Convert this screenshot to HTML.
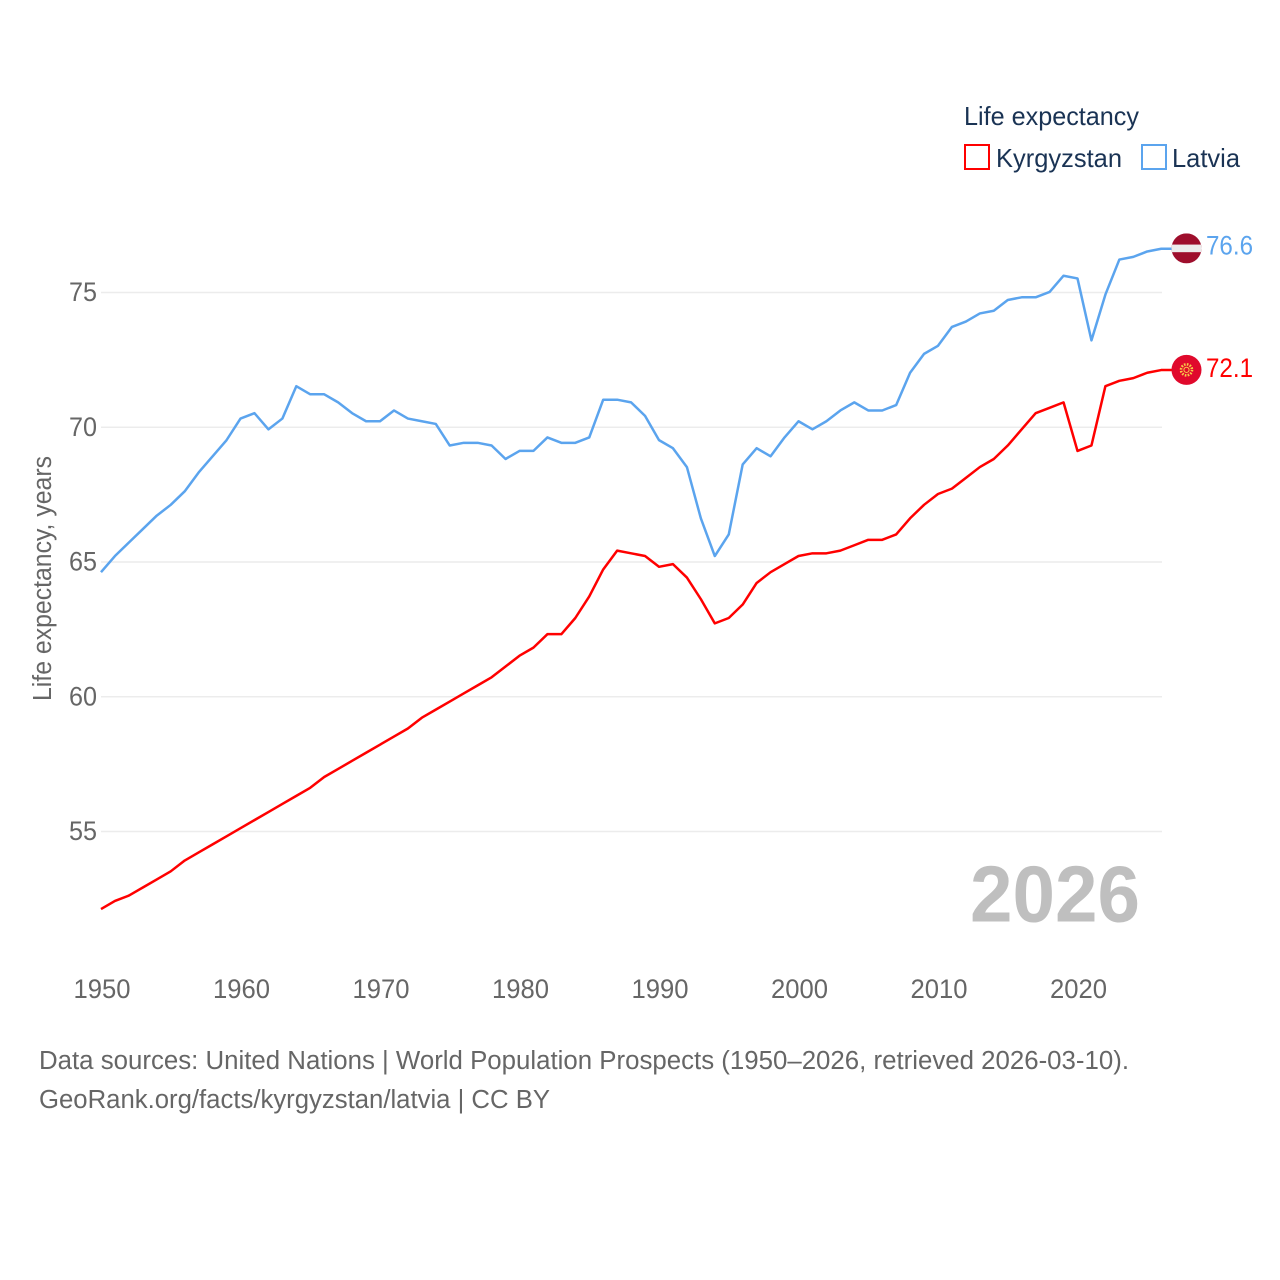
<!DOCTYPE html>
<html lang="en">
<head>
<meta charset="utf-8">
<title>Life expectancy: Kyrgyzstan and Latvia</title>
<style>
html,body{margin:0;padding:0;background:#fff;}
svg{display:block;font-family:"Liberation Sans",sans-serif;}
</style>
</head>
<body>
<svg id="chart" xmlns="http://www.w3.org/2000/svg" width="1280" height="1280" viewBox="0 0 1280 1280">
  <defs>
    <clipPath id="flag-clip-lv"><circle id="clip-lv" cx="1186.5" cy="249" r="15"></circle></clipPath>
  </defs>
  <rect width="1280" height="1280" fill="#ffffff"></rect>
  <g id="grid"></g>
  <g id="y-ticks"></g>
  <g id="x-ticks"></g>
  <text transform="translate(51,701) rotate(-90)" font-size="25.5" fill="#666666" textLength="245" lengthAdjust="spacingAndGlyphs">Life expectancy, years</text>
  <g id="series"></g>
  <g id="end-markers"></g>
  <text x="970" y="921.5" font-size="80" font-weight="700" fill="#bfbfbf" textLength="170" lengthAdjust="spacingAndGlyphs">2026</text>
  <g>
    <text x="964" y="125" font-size="26" fill="#1a3354" textLength="175" lengthAdjust="spacingAndGlyphs">Life expectancy</text>
    <g>
      <rect x="965" y="145" width="24" height="24" fill="none" stroke="#ff0000" stroke-width="2"></rect>
      <text x="996" y="167" font-size="26" fill="#1a3354" textLength="126" lengthAdjust="spacingAndGlyphs">Kyrgyzstan</text>
    </g>
    <g>
      <rect x="1142" y="145" width="24" height="24" fill="none" stroke="#5ba4ee" stroke-width="2"></rect>
      <text x="1172" y="167" font-size="26" fill="#1a3354" textLength="68" lengthAdjust="spacingAndGlyphs">Latvia</text>
    </g>
  </g>
  <g>
    <text x="39" y="1069" font-size="25.5" fill="#666666" textLength="1090" lengthAdjust="spacingAndGlyphs">Data sources: United Nations | World Population Prospects (1950–2026, retrieved 2026-03-10).</text>
    <text x="39" y="1108" font-size="25.5" fill="#666666" textLength="511" lengthAdjust="spacingAndGlyphs">GeoRank.org/facts/kyrgyzstan/latvia | CC BY</text>
  </g>
</svg>
<script>
const startYear = 1950;
const xTickYears = [1950, 1960, 1970, 1980, 1990, 2000, 2010, 2020];
const yTickValues = [55, 60, 65, 70, 75];
const kyrgyzstanValues = [
  52.1, 52.4, 52.6, 52.9, 53.2, 53.5, 53.9, 54.2, 54.5, 54.8,
  55.1, 55.4, 55.7, 56.0, 56.3, 56.6, 57.0, 57.3, 57.6, 57.9,
  58.2, 58.5, 58.8, 59.2, 59.5, 59.8, 60.1, 60.4, 60.7, 61.1,
  61.5, 61.8, 62.3, 62.3, 62.9, 63.7, 64.7, 65.4, 65.3, 65.2,
  64.8, 64.9, 64.4, 63.6, 62.7, 62.9, 63.4, 64.2, 64.6, 64.9,
  65.2, 65.3, 65.3, 65.4, 65.6, 65.8, 65.8, 66.0, 66.6, 67.1,
  67.5, 67.7, 68.1, 68.5, 68.8, 69.3, 69.9, 70.5, 70.7, 70.9,
  69.1, 69.3, 71.5, 71.7, 71.8, 72.0, 72.1
];
const latviaValues = [
  64.6, 65.2, 65.7, 66.2, 66.7, 67.1, 67.6, 68.3, 68.9, 69.5,
  70.3, 70.5, 69.9, 70.3, 71.5, 71.2, 71.2, 70.9, 70.5, 70.2,
  70.2, 70.6, 70.3, 70.2, 70.1, 69.3, 69.4, 69.4, 69.3, 68.8,
  69.1, 69.1, 69.6, 69.4, 69.4, 69.6, 71.0, 71.0, 70.9, 70.4,
  69.5, 69.2, 68.5, 66.6, 65.2, 66.0, 68.6, 69.2, 68.9, 69.6,
  70.2, 69.9, 70.2, 70.6, 70.9, 70.6, 70.6, 70.8, 72.0, 72.7,
  73.0, 73.7, 73.9, 74.2, 74.3, 74.7, 74.8, 74.8, 75.0, 75.6,
  75.5, 73.2, 74.9, 76.2, 76.3, 76.5, 76.6
];

const NS = 'http://www.w3.org/2000/svg';
function xScale(year) { return 101 + (year - 1950) * 13.95; }
function yScale(value) { return 292.5 + (75 - value) * 26.95; }
function ySeries(value) { return yScale(value) - 0.6; }
function make(tag, attrs, parent) {
  const el = document.createElementNS(NS, tag);
  for (const k in attrs) el.setAttribute(k, attrs[k]);
  parent.appendChild(el);
  return el;
}

const gridG = document.getElementById('grid');
const yG = document.getElementById('y-ticks');
yTickValues.forEach(function (v) {
  const line = make('line', {x1: 101, x2: 1162, y1: yScale(v), y2: yScale(v), stroke: '#ececec', 'stroke-width': 1.6}, gridG);
  
  
  const t = make('text', {x: 69, y: yScale(v) + 8.5, 'font-size': 26.5, fill: '#666666', textLength: 28, lengthAdjust: 'spacingAndGlyphs'}, yG);
  
  
  t.textContent = String(v);
});

const xG = document.getElementById('x-ticks');
xTickYears.forEach(function (y) {
  const t = make('text', {x: xScale(y) - 27.5, y: 998, 'font-size': 26.5, fill: '#666666', textLength: 57, lengthAdjust: 'spacingAndGlyphs'}, xG);
  
  
  t.textContent = String(y);
});

function drawSeries(values, color, name) {
  const g = document.getElementById('series');
  const pts = values.map(function (v, i) { return xScale(startYear + i).toFixed(2) + ',' + ySeries(v).toFixed(2); });
  const last = values[values.length - 1];
  pts.push('1172,' + ySeries(last).toFixed(2));
  const line = make('polyline', {points: pts.join(' '), fill: 'none', stroke: color, 'stroke-width': 2.5, 'stroke-linejoin': 'round'}, g);
  
  
}
drawSeries(kyrgyzstanValues, '#ff0000', 'line-kyrgyzstan');
drawSeries(latviaValues, '#5ba4ee', 'line-latvia');

const markers = document.getElementById('end-markers');
const lastLv = latviaValues[latviaValues.length - 1];
const lastKg = kyrgyzstanValues[kyrgyzstanValues.length - 1];
const cyLv = ySeries(lastLv) - 0.4;
const cyKg = ySeries(lastKg) - 0.2;
document.getElementById('clip-lv').setAttribute('cy', cyLv);

const flagLv = make('g', {'clip-path': 'url(#flag-clip-lv)'}, markers);


make('rect', {x: 1171, y: cyLv - 15, width: 31, height: 30, fill: '#9e0e2c'}, flagLv);
make('rect', {x: 1171, y: cyLv - 3.8, width: 31, height: 7.6, fill: '#ececec'}, flagLv);

const flagKg = make('g', {}, markers);


make('circle', {cx: 1186.5, cy: cyKg, r: 15, fill: '#e0092c'}, flagKg);
make('circle', {cx: 1186.5, cy: cyKg, r: 5.5, fill: 'none', stroke: '#f7c948', 'stroke-width': 2.6, 'stroke-dasharray': '1.6 1.3'}, flagKg);
make('circle', {cx: 1186.5, cy: cyKg, r: 2.6, fill: 'none', stroke: '#f7c948', 'stroke-width': 1}, flagKg);

const labelLv = make('text', {x: 1206, y: cyLv + 6, 'font-size': 26.5, fill: '#5ba4ee', textLength: 47, lengthAdjust: 'spacingAndGlyphs'}, markers);


labelLv.textContent = lastLv.toFixed(1);

const labelKg = make('text', {x: 1206, y: cyKg + 7, 'font-size': 26.5, fill: '#ff0000', textLength: 47, lengthAdjust: 'spacingAndGlyphs'}, markers);


labelKg.textContent = lastKg.toFixed(1);
</script>
</body>
</html>
